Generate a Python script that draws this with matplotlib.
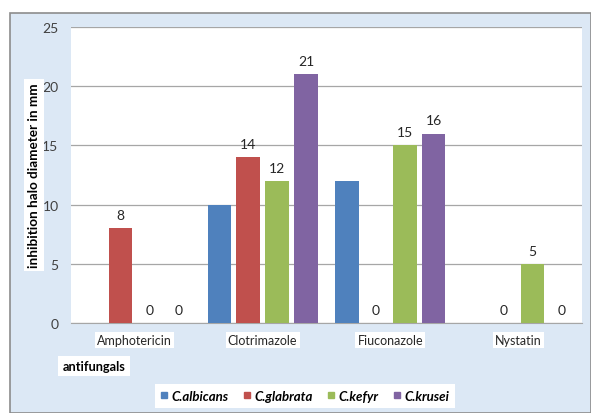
import numpy as np
import matplotlib.pyplot as plt
from matplotlib.patches import Rectangle
from matplotlib.lines import Line2D

plt.rcParams['font.family'] = ['Lato', 'DejaVu Sans']

# ---- data ----
drugs = ["Amphotericin", "Clotrimazole", "Fiuconazole", "Nystatin"]
species = ["C.albicans", "C.glabrata", "C.kefyr", "C.krusei"]
albicans = [0, 10, 12, 0]
glabrata = [8, 14, 0, 0]
kefyr = [0, 12, 15, 5]
krusei = [0, 21, 16, 0]
series = [albicans, glabrata, kefyr, krusei]
show_labels = [False, True, True, True]   # blue series carries no data labels
colors = ["#4F81BD", "#C0504D", "#9BBB59", "#8064A2"]

fig = plt.figure(figsize=(5.91, 4.14), dpi=100)
fig.patch.set_facecolor("white")

# textured-blue chart frame
frame = Rectangle((10 / 591, 0), 1 - 10 / 591, 1 - 14 / 414, transform=fig.transFigure,
                  facecolor="#dce8f5", edgecolor="#8c8c8c", linewidth=1.2, zorder=-5)
fig.patches.append(frame)

ax = fig.add_axes([71 / 591, 1 - 324 / 414, (582 - 71) / 591, (324 - 28) / 414])
ax.set_zorder(1)
ax.set_facecolor("white")

x = np.arange(len(drugs))
width = 0.185
step = 0.226
for i, (vals, c) in enumerate(zip(series, colors)):
    pos = x + (i - 1.5) * step
    ax.bar(pos, vals, width, color=c, zorder=3)
    if show_labels[i]:
        for p, v in zip(pos, vals):
            ax.text(p, v + 0.6, f"{v}", ha="center", va="bottom",
                    fontsize=10, color="#262626", zorder=4)

ax.set_xlim(-0.5, 3.5)
ax.set_ylim(0, 25)
ax.set_yticks([0, 5, 10, 15, 20, 25])
ax.yaxis.grid(True, color="#a6a6a6", linewidth=0.9, zorder=1)
ax.set_axisbelow(True)
for s in ["left", "right", "top"]:
    ax.spines[s].set_visible(False)
ax.spines["bottom"].set_color("#a6a6a6")
ax.tick_params(axis="y", length=0, pad=9, labelsize=10, labelcolor="#404040")
ax.tick_params(axis="x", length=0)
ax.set_xticks(x)
ax.set_xticklabels([])

for xi, name in zip(x, drugs):
    ax.text(xi, -1.45, name, ha="center", va="center", fontsize=9, color="#262626",
            bbox=dict(facecolor="white", edgecolor="none", pad=1.5),
            transform=ax.transData, clip_on=False)

fig.text(34 / 591, 1 - 176 / 414, "inhibition halo diameter in mm", rotation=90,
         ha="center", va="center", fontsize=9.7, fontweight="bold", color="black",
         bbox=dict(facecolor="white", edgecolor="none", pad=2.5))
fig.text(94 / 591, 1 - 367 / 414, "antifungals", ha="center", va="center",
         fontsize=9.2, fontweight="bold", color="black",
         bbox=dict(facecolor="white", edgecolor="none", pad=3))

handles = [Line2D([], [], marker="s", linestyle="none", markersize=4.5,
                  markerfacecolor=c, markeredgecolor=c) for c in colors]
leg = fig.legend(handles, species, loc="center", bbox_to_anchor=(305 / 591, 1 - 397 / 414),
                 ncol=4, frameon=True, fancybox=False, handletextpad=0.35,
                 columnspacing=1.1, borderpad=0.45, handlelength=0.5,
                 prop=dict(family=["Lato", "DejaVu Sans"], size=9.5, weight="bold", style="italic"))
leg.get_frame().set_facecolor("white")
leg.get_frame().set_edgecolor("none")
leg.get_frame().set_alpha(1)

fig.savefig("out.png", dpi=100)
